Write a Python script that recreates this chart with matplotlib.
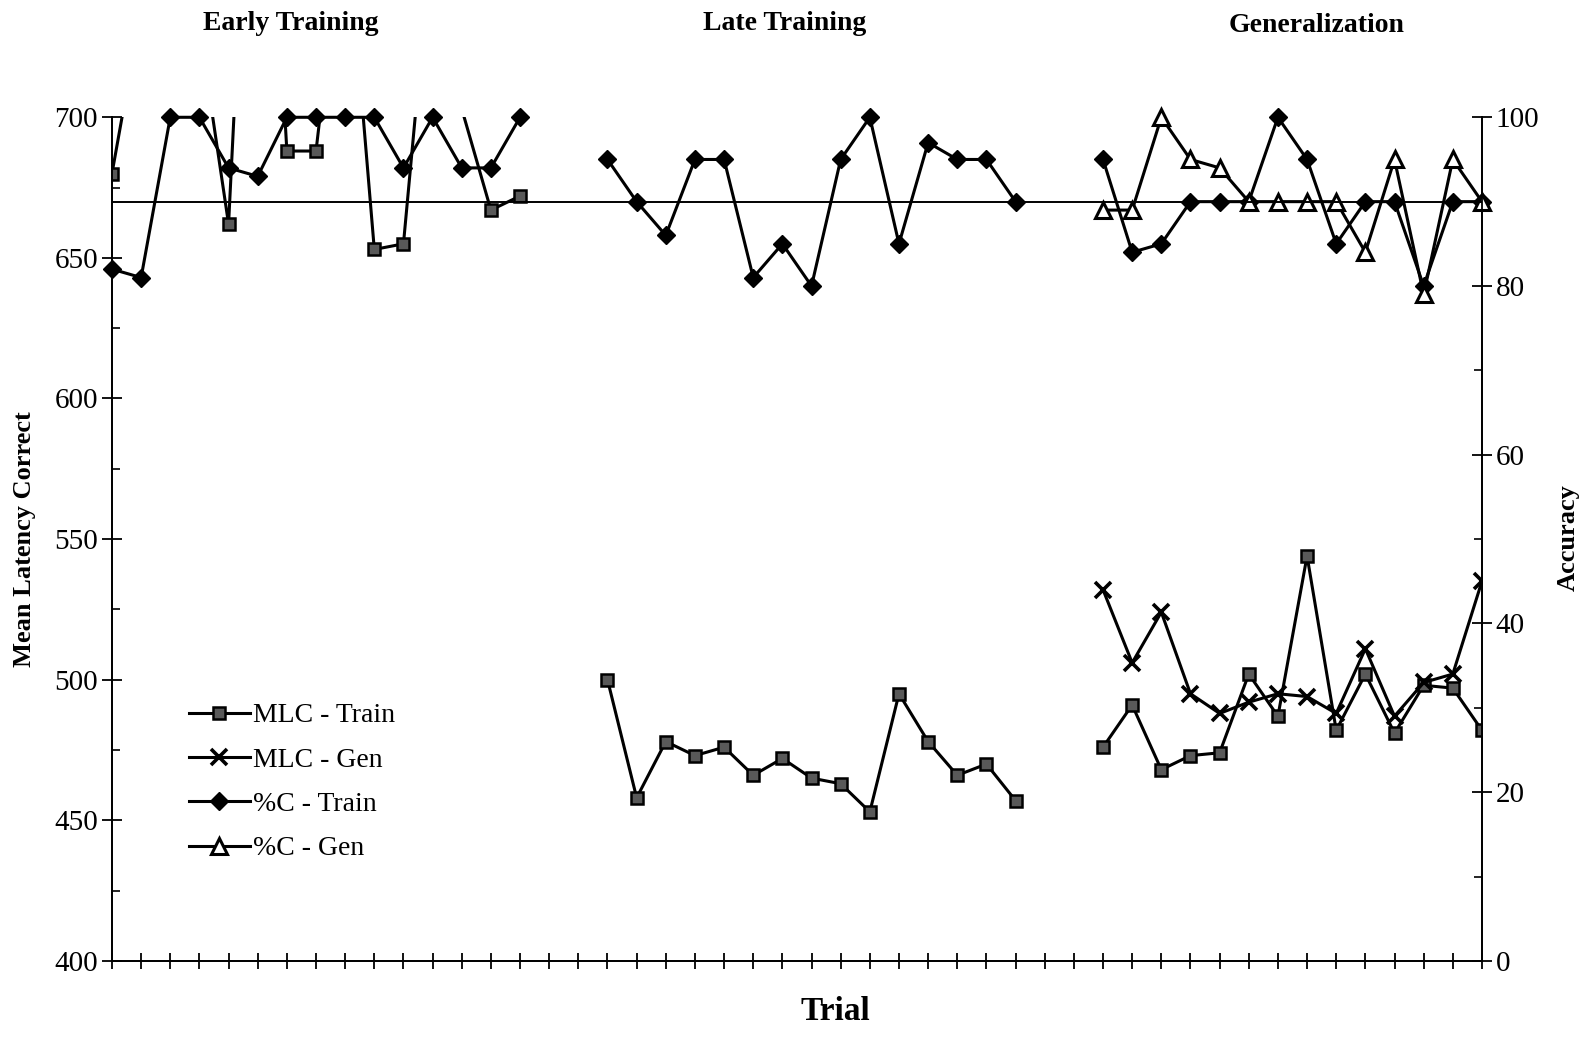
import numpy as np
import matplotlib.pyplot as plt
from matplotlib.ticker import MultipleLocator

plt.rcParams['font.family'] = ['Liberation Serif', 'DejaVu Serif']

# trial positions of the three phases (gaps of two trials between phases)
early_trials = list(range(0, 15))
late_trials = list(range(17, 32))
gen_trials = list(range(34, 48))

# mean latency correct (ms), training items
mlc_train_early = [680, 738, 760, 732, 662, 870, 688, 688, 777, 653, 655, 767, 703, 667, 672]
mlc_train_late = [500, 458, 478, 473, 476, 466, 472, 465, 463, 453, 495, 478, 466, 470, 457]
mlc_train_gen = [476, 491, 468, 473, 474, 502, 487, 544, 482, 502, 481, 498, 497, 482]

# mean latency correct (ms), generalization items
mlc_gen_gen = [532, 506, 524, 495, 488, 492, 495, 494, 488, 511, 487, 499, 502, 535]

# percent correct, training items
pc_train_early = [82, 81, 100, 100, 94, 93, 100, 100, 100, 100, 94, 100, 94, 94, 100]
pc_train_late = [95, 90, 86, 95, 95, 81, 85, 80, 95, 100, 85, 97, 95, 95, 90]
pc_train_gen = [95, 84, 85, 90, 90, 90, 100, 95, 85, 90, 90, 80, 90, 90]

# percent correct, generalization items
pc_gen_gen = [89, 89, 100, 95, 94, 90, 90, 90, 90, 84, 95, 79, 95, 90]

criterion = 90

phase_titles = ['Early Training', 'Late Training', 'Generalization']


def with_gaps(*parts):
    nan2 = [np.nan, np.nan]
    out = []
    for i, p in enumerate(parts):
        if i:
            out += nan2
        out += list(p)
    return np.array(out, dtype=float)


all_x = np.arange(0, 48)
mlc_train = with_gaps(mlc_train_early, mlc_train_late, mlc_train_gen)
pc_train = with_gaps(pc_train_early, pc_train_late, pc_train_gen)

fig = plt.figure(figsize=(15.86, 10.37), dpi=100)
ax = fig.add_axes([0.0706, 0.0734, 0.8638, 0.8135])
ax2 = ax.twinx()

lw = 2.2
h1, = ax.plot(all_x, mlc_train, color='black', lw=lw, marker='s', ms=9,
              mfc='0.35', mec='black', mew=1.8, label='MLC - Train')
h2, = ax.plot(gen_trials, mlc_gen_gen, color='black', lw=lw, marker='x', ms=12,
              mew=2.6, label='MLC - Gen')
h3, = ax2.plot(all_x, pc_train, color='black', lw=lw, marker='D', ms=9,
               mfc='black', mec='black', label='%C - Train', clip_on=False)
h4, = ax2.plot(gen_trials, pc_gen_gen, color='black', lw=lw, marker='^', ms=11,
               mfc='white', mec='black', mew=2.2, label='%C - Gen', clip_on=False)
ax2.axhline(criterion, color='black', lw=1.4)

ax.set_xlim(0, 47)
ax.set_ylim(400, 700)
ax2.set_ylim(0, 100)

ax.set_xticks(all_x)
ax.set_xticklabels([])
ax.tick_params(axis='x', direction='inout', length=12, width=1.3)
ax.yaxis.set_major_locator(MultipleLocator(50))
ax.yaxis.set_minor_locator(MultipleLocator(25))
ax.tick_params(axis='y', which='major', direction='inout', length=14, width=1.3, labelsize=21, pad=3)
ax.tick_params(axis='y', which='minor', direction='in', length=6, width=1.2)
ax2.yaxis.set_major_locator(MultipleLocator(20))
ax2.yaxis.set_minor_locator(MultipleLocator(10))
ax2.tick_params(axis='y', which='major', direction='inout', length=14, width=1.3, labelsize=21, pad=3)
ax2.tick_params(axis='y', which='minor', direction='in', length=6, width=1.2)

for a in (ax, ax2):
    a.spines['top'].set_visible(False)
    a.spines['left'].set_linewidth(1.3)
    a.spines['right'].set_linewidth(1.3)
    a.spines['bottom'].set_linewidth(1.3)

fig.text(25 / 1586, 1 - 539 / 1037, 'Mean Latency Correct', rotation=90, ha='center', va='center',
         fontsize=19, fontweight='bold')
fig.text(1568 / 1586, 1 - 538 / 1037, 'Accuracy', rotation=90, ha='center', va='center',
         fontsize=19, fontweight='bold')
fig.text(835 / 1586, 1 - 1012 / 1037, 'Trial', ha='center', va='center',
         fontsize=24, fontweight='bold')

for title, xpos, ypos in zip(phase_titles, [291, 785, 1317], [23, 23, 26]):
    fig.text(xpos / 1586, 1 - ypos / 1037, title, ha='center', va='center',
             fontsize=20, fontweight='bold')

fig.legend(handles=[h1, h2, h3, h4], loc='upper left', bbox_to_anchor=(0.112, 0.333),
           frameon=False, fontsize=20, handlelength=2.2, handletextpad=0.12,
           labelspacing=0.68, borderaxespad=0)

plt.savefig('out.png', dpi=100)
